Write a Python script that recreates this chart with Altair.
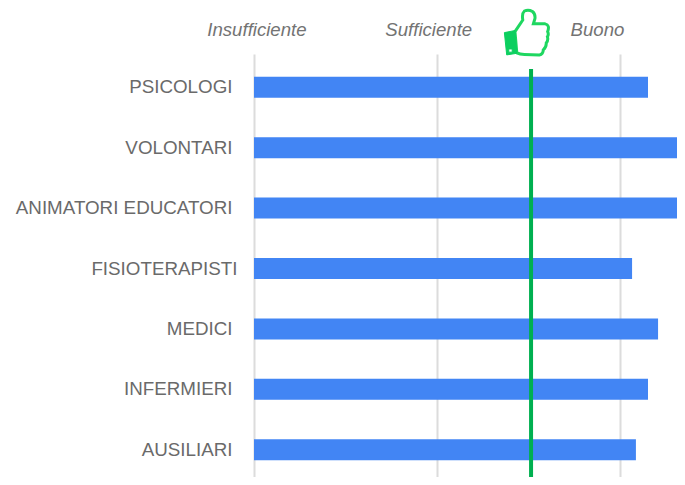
import altair as alt
import pandas as pd

categories = ["PSICOLOGI", "VOLONTARI", "ANIMATORI EDUCATORI", "FISIOTERAPISTI",
              "MEDICI", "INFERMIERI", "AUSILIARI"]
values = [2.153, 2.45, 2.45, 2.066, 2.208, 2.153, 2.087]
threshold = [1.514]
bands = ["Insufficiente", "Sufficiente", "Buono"]
band_x = [0.016, 0.955, 1.877]
grid_values = [0, 1, 2]

FONT = "Liberation Sans"
x_scale = alt.Scale(domain=[0, 423 / 183], nice=False, zero=False)
y_scale = alt.Scale(domain=categories, range=[0, 423], paddingInner=0.652, paddingOuter=0.326)

df = pd.DataFrame({"cat": categories, "val": values})

bars = alt.Chart(df).mark_bar(color="#4285f4", clip=True).encode(
    x=alt.X("val:Q", scale=x_scale,
            axis=alt.Axis(values=grid_values, labels=False, ticks=False, domain=False, title=None,
                          grid=True, gridColor="#dcdcdc", gridWidth=2)),
    y=alt.Y("cat:N", sort=None, scale=y_scale, axis=None),
)

label_style = dict(font=FONT, fontSize=18.8, color="#6a6a6a", align="right", baseline="middle")
labels = alt.Chart(df).transform_filter("datum.cat != 'FISIOTERAPISTI'").mark_text(**label_style).encode(
    x=alt.value(-21.5),
    y=alt.Y("cat:N", sort=None, scale=y_scale, axis=None),
    text="cat:N",
)
labels2 = alt.Chart(df).transform_filter("datum.cat == 'FISIOTERAPISTI'").mark_text(**label_style).encode(
    x=alt.value(-16.5),
    y=alt.Y("cat:N", sort=None, scale=y_scale, axis=None),
    text="cat:N",
)

rule = alt.Chart(pd.DataFrame({"t": threshold})).mark_rule(color="#00b050", strokeWidth=4).encode(
    x=alt.X("t:Q", scale=x_scale), y=alt.value(12), y2=alt.value(420))

heads = alt.Chart(pd.DataFrame({"b": bands, "x": band_x})).mark_text(
    font=FONT, fontSize=18.6, fontStyle="italic", color="#737373", align="center", baseline="middle"
).encode(x=alt.X("x:Q", scale=x_scale), y=alt.value(-27), text="b:N")

hand = ("M-0.51,-0.07 L-0.17,-0.58 C-0.2,-0.75 -0.2,-0.88 -0.1,-0.97 Q0.07,-1.05 0.25,-0.95 "
        "Q0.38,-0.85 0.36,-0.65 L0.29,-0.41 L0.8,-0.41 Q1.02,-0.36 0.91,-0.07 Q0.97,0.05 0.9,0.15 "
        "Q0.95,0.3 0.85,0.42 Q0.86,0.6 0.72,0.72 Q0.72,0.92 0.55,0.94 L-0.1,0.92 Q-0.3,0.92 -0.43,0.85 Z")
cuff = ("M-0.97,-0.03 L-0.51,-0.12 L-0.43,0.87 L-0.87,0.94 Z "
        "M-0.78,0.68 L-0.78,0.82 L-0.63,0.82 L-0.63,0.68 Z")
icon = pd.DataFrame({"a": [0]})
thumb = alt.Chart(icon).mark_point(shape=hand, size=2116, filled=True, fill="white", stroke="#1ed760",
                                   strokeWidth=3, opacity=1).encode(x=alt.value(272.7), y=alt.value(-23.7))
thumb2 = alt.Chart(icon).mark_point(shape=cuff, size=2116, filled=True, fill="#0ccf5f", stroke="#0ccf5f",
                                    strokeWidth=1, opacity=1).encode(x=alt.value(272.7), y=alt.value(-23.7))

chart = alt.layer(bars, labels, labels2, rule, heads, thumb, thumb2).properties(
    width=423, height=420, autosize="none",
    padding={"left": 246, "top": 49, "right": 0, "bottom": 0},
).configure_view(stroke=None)

chart.save("out.html", embed_options={"renderer": "svg", "actions": False})
